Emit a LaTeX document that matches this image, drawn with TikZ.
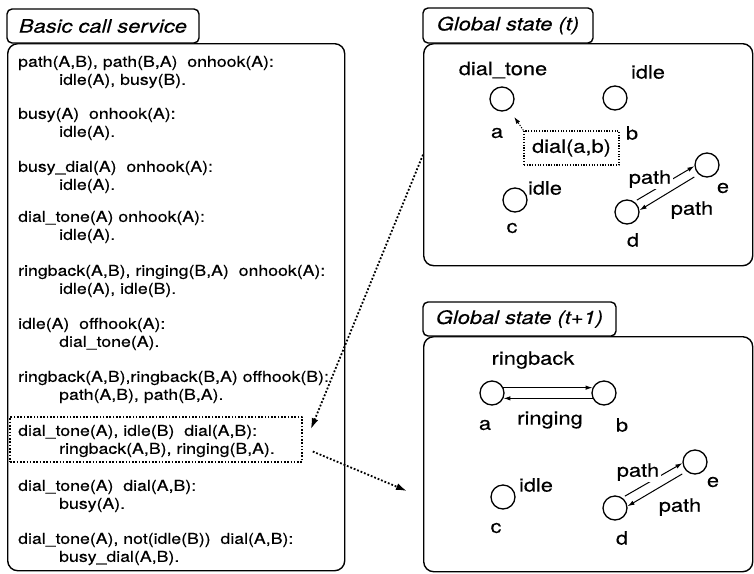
\documentclass[tikz,border=0pt]{standalone}
\usepackage{fontspec}
\setmainfont{TeX Gyre Heros}[FakeStretch=1.18, FakeBold=0.3]
\usetikzlibrary{arrows.meta}
\tikzset{frame/.style={draw, rounded corners=10pt, line width=1.4pt, inner sep=0pt},
  title/.style={draw, fill=white, rounded corners=5pt, line width=1.4pt, inner sep=0pt, font=\fontsize{18.5}{22}\selectfont\itshape},
  rule/.style={anchor=west, inner sep=0pt, font=\fontsize{15}{18}\selectfont},
  site/.style={circle, draw, line width=1.3pt, minimum size=24pt, inner sep=0pt},
  tag/.style={inner sep=0pt, font=\fontsize{18.5}{22}\selectfont},
  dotbox/.style={draw, line width=1.6pt, dash pattern=on 1.6pt off 1.7pt, inner sep=0pt},
  link/.style={-{Latex[length=7pt,width=4.5pt]}, line width=1pt},
  flow/.style={-{Latex[length=11pt,width=7pt]}, line width=1.8pt, dash pattern=on 1.8pt off 1.9pt},}

\begin{document}
\begin{tikzpicture}[x=1pt, y=-1pt, line join=round]
        \useasboundingbox (0,0) rectangle (754,573);
        % Rule base
        \node[frame, minimum width=337, minimum height=527, anchor=north west] (rules) at (7,43) {};
        \node[title, minimum width=192, minimum height=34] (basic) at (103,26) {Basic call service};
        \foreach \y/\cond/\act [count=\i] in {
            63/{path(A,B), path(B,A)\ \ onhook(A):}/{idle(A), busy(B).},
            115/{busy(A)\ \ onhook(A):}/{idle(A).},
            168/{busy\_dial(A)\ \ onhook(A):}/{idle(A).},
            218/{dial\_tone(A) onhook(A):}/{idle(A).},
            272/{ringback(A,B), ringing(B,A)\ \ onhook(A):}/{idle(A), idle(B).},
            325/{idle(A)\ \ offhook(A):}/{dial\_tone(A).},
            378/{ringback(A,B),ringback(B,A) offhook(B):}/{path(A,B), path(B,A).},
            432/{dial\_tone(A), idle(B)\ \ dial(A,B):}/{ringback(A,B), ringing(B,A).},
            487/{dial\_tone(A)\ \ dial(A,B):}/{busy(A).},
            540/{dial\_tone(A), not(idle(B))\ \ dial(A,B):}/{busy\_dial(A,B).}}
        {
            \node[rule] (r\i) at (18,\y) {\cond};
            \node[rule] (s\i) at (59,\y+18) {\act};
        }
        \node[dotbox, minimum width=292, minimum height=45] (sel) at (156,439.5) {};

        % Global state (t)
        \node[frame, minimum width=329, minimum height=222, anchor=north west] (gt) at (423,43) {};
        \node[title, minimum width=170, minimum height=35] (gtt) at (508,25.5) {Global state (t)};
        \node[site] (a) at (502,99) {};
        \node[site] (b) at (615,98) {};
        \node[site] (c) at (515,200) {};
        \node[site] (d) at (627,212) {};
        \node[site] (e) at (707,165) {};
        \node[tag] (ta) at (497,133) {a};
        \node[tag] (tb) at (632,133) {b};
        \node[tag] (tc) at (512,228) {c};
        \node[tag] (td) at (633,240) {d};
        \node[tag] (te) at (723,188) {e};
        \node[tag] (sa) at (503,70) {dial\_tone};
        \node[tag] (sb) at (648,72) {idle};
        \node[tag] (sc) at (545,188) {idle};
        \node[dotbox, line width=1.2pt, dash pattern=on 1.2pt off 1.5pt, minimum width=95, minimum height=34, font=\fontsize{18.5}{22}\selectfont] (dial) at (571.5,148) {dial(a,b)};
        \draw[link, dash pattern=on 1.2pt off 1.5pt, shorten >=9pt] (dial.north west) -- (a);
        \draw[link, shorten <=3pt] (d.55) -- (e.185);
        \draw[link, shorten <=5pt] (e.228) -- (d.8);
        \node[tag, fill=white, inner sep=1.5pt] (p1) at (650,179) {path};
        \node[tag] (p2) at (692,210) {path};

        % Global state (t+1)
        \node[frame, minimum width=329, minimum height=235, anchor=north west] (gn) at (423,336) {};
        \node[title, minimum width=193, minimum height=34] (gnt) at (519.5,319) {Global state (t+1)};
        \node[site] (a1) at (492,393) {};
        \node[site] (b1) at (604,393) {};
        \node[site] (c1) at (503,497) {};
        \node[site] (d1) at (615,508) {};
        \node[site] (e1) at (695,462) {};
        \node[tag] (ta1) at (485,425) {a};
        \node[tag] (tb1) at (622,425) {b};
        \node[tag] (tc1) at (496,528) {c};
        \node[tag] (td1) at (622,538) {d};
        \node[tag] (te1) at (713,482) {e};
        \node[tag] (sa1) at (533,360) {ringback};
        \node[tag] (sb1) at (550,420) {ringing};
        \node[tag] (sc1) at (536,485) {idle};
        \draw[link] (a1.25) -- (b1.155);
        \draw[link] (b1.205) -- (a1.335);
        \draw[link, shorten <=3pt] (d1.55) -- (e1.185);
        \draw[link, shorten <=5pt] (e1.228) -- (d1.8);
        \node[tag, fill=white, inner sep=1.5pt] (p3) at (638,472) {path};
        \node[tag] (p4) at (680,507) {path};

        % Steps between the panels
        \draw[flow] (gt.west) -- ([shift={(8,13)}]sel.north east);
        \coordinate (gnin) at (407,491);
        \draw[flow] ([shift={(10,12)}]sel.east) -- (gnin);
\end{tikzpicture}
\end{document}
